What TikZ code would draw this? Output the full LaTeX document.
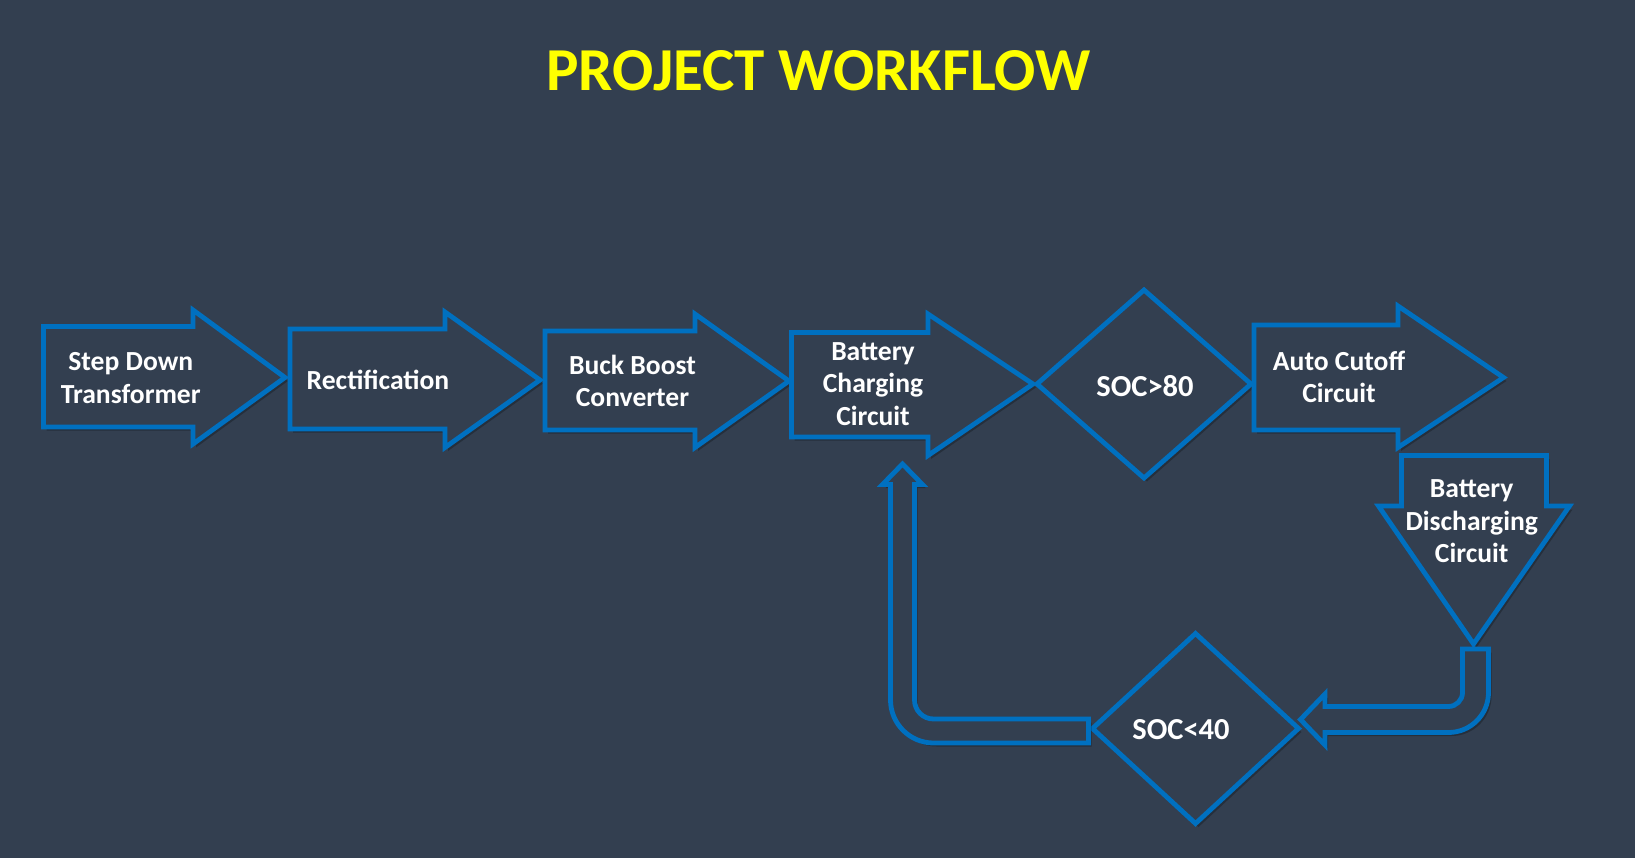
\documentclass[tikz,border=0pt]{standalone}
\usepackage{fontspec}
\setmainfont{Carlito}
\definecolor{bg}{HTML}{333F50}
\definecolor{ppblue}{HTML}{0070C0}
\definecolor{ttlc}{HTML}{FFFF00}
\tikzset{
  sh/.style={preaction={fill=black, opacity=0.25, transform canvas={xshift=3pt, yshift=-3.5pt}}},
  blk/.style={sh, draw=ppblue, line width=4.8pt, line join=miter, fill=bg},
  lbl/.style={text=white, font=\bfseries\fontsize{27.6}{32.8}\selectfont, align=center, inner sep=0pt},
  declbl/.style={text=white, font=\bfseries\fontsize{30.5}{36}\selectfont, align=center, inner sep=0pt},
  ttlstyle/.style={text=ttlc, font=\bfseries\fontsize{61}{70}\selectfont, inner sep=0pt, anchor=base},
}
\begin{document}
\begin{tikzpicture}[x=1pt,y=-1pt]
\path[fill=bg, use as bounding box] (0,0) rectangle (1635,858);

\node[ttlstyle] (title) at (818.5,90.7) {PROJECT WORKFLOW};

% right block arrows
\draw[blk] (43.5,326.5) -- (193,326.5) -- (193,310) -- (285,377.5) -- (193,444) -- (193,427) -- (43.5,427) -- cycle;
\draw[blk] (290,329) -- (445,329) -- (445,312) -- (540,380) -- (445,447.5) -- (445,429) -- (290,429) -- cycle;
\draw[blk] (545,331) -- (695,331) -- (695,314) -- (789,381) -- (695,447.5) -- (695,430) -- (545,430) -- cycle;
\draw[blk] (791.5,332.5) -- (928,332.5) -- (928,314) -- (1033,384) -- (928,455.5) -- (928,437) -- (791.5,437) -- cycle;
% decision SOC>80
\draw[blk] (1144,290) -- (1251,384) -- (1144,478) -- (1037,384) -- cycle;
\draw[blk] (1254,325) -- (1398,325) -- (1398,306) -- (1503.5,377.5) -- (1398,447.5) -- (1398,430) -- (1254,430) -- cycle;
% down block arrow
\draw[blk] (1401.5,455.5) -- (1546.5,455.5) -- (1546.5,506) -- (1569.5,506) -- (1473.5,644) -- (1378.5,506) -- (1401.5,506) -- cycle;
% bent arrow from discharging to SOC<40
\draw[blk] (1462.5,649) -- (1488.5,649) -- (1488.5,692.5)
  .. controls (1488.5,714.6) and (1470.6,732.5) .. (1448.5,732.5)
  -- (1325,732.5) -- (1325,745) -- (1300.5,719.5) -- (1325,694) -- (1325,706.5)
  -- (1448.5,706.5) .. controls (1456.2,706.5) and (1462.5,700.2) .. (1462.5,692.5) -- cycle;
% decision SOC<40
\draw[blk] (1195.5,633.5) -- (1298.5,728.5) -- (1195.5,823.5) -- (1092.5,728.5) -- cycle;
% bent return arrow to charging circuit
\draw[blk] (1088.5,719) -- (933.5,719) .. controls (923,719) and (914.5,710.5) .. (914.5,700)
  -- (914.5,484.5) -- (922.5,484.5) -- (902.5,464) -- (882.5,484.5) -- (890.5,484.5)
  -- (890.5,700) .. controls (890.5,723.7) and (909.8,743) .. (933.5,743) -- (1088.5,743) -- cycle;

% labels
\node[lbl] (t1) at (130.8,378.3) {Step Down\\Transformer};
\node[lbl] (t2) at (378,380) {Rectification};
\node[lbl] (t3) at (632.5,381) {Buck Boost\\Converter};
\node[lbl] (t4) at (873,384) {Battery\\Charging\\Circuit};
\node[declbl] (t5) at (1145,386) {SOC>80};
\node[lbl] (t6) at (1339,377) {Auto Cutoff\\Circuit};
\node[lbl] (t7) at (1471.7,521.3) {Battery\\Discharging\\Circuit};
\node[declbl] (t8) at (1181,730) {SOC<40};
\end{tikzpicture}
\end{document}
